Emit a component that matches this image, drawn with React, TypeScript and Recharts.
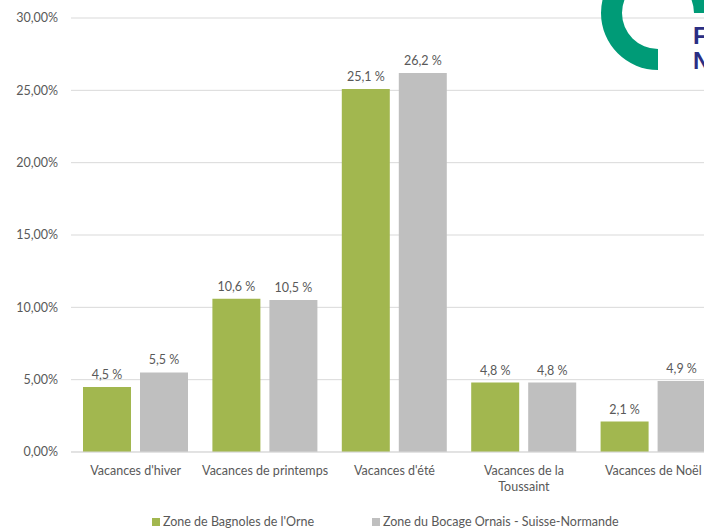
import React from "react";
import { BarChart, Bar, XAxis, YAxis, CartesianGrid, LabelList } from "recharts";

const categories = [
  "Vacances d'hiver",
  "Vacances de printemps",
  "Vacances d'été",
  "Vacances de la\nToussaint",
  "Vacances de Noël",
];
const bagnoles = [4.5, 10.6, 25.1, 4.8, 2.1];
const bocage = [5.5, 10.5, 26.2, 4.8, 4.9];
const yTicks = [0, 5, 10, 15, 20, 25, 30];
const seriesNames = ["Zone de Bagnoles de l'Orne", "Zone du Bocage Ornais - Suisse-Normande"];

const data = categories.map((c, i) => ({ name: c, a: bagnoles[i], b: bocage[i] }));

const FONT = "Lato, 'Open Sans', sans-serif";
const TEXT = "#595959";
const GREEN = "#A2B74F";
const GRAY = "#BFBFBF";

const fmtPct = (v: number) => v.toFixed(2).replace(".", ",") + "%";
const fmtLabel = (v: any) => Number(v).toFixed(1).replace(".", ",") + " %";

const XTick = (props: any) => {
  const { x, y, payload } = props;
  const lines = String(payload.value).split("\n");
  return (
    <text x={x} y={y} textAnchor="middle" fill={TEXT} fontSize={12.5} fontFamily={FONT}>
      {lines.map((l: string, i: number) => (
        <tspan key={i} x={x} dy={i === 0 ? 18 : 16}>
          {l}
        </tspan>
      ))}
    </text>
  );
};

const BarLabel = (props: any) => {
  const { x, y, width, value } = props;
  return (
    <text
      x={x + width / 2}
      y={y - 8}
      textAnchor="middle"
      fill={TEXT}
      fontSize={12.5}
      fontFamily={FONT}
    >
      {fmtLabel(value)}
    </text>
  );
};

export default function App() {
  return (
    <div
      style={{
        position: "absolute",
        left: 0,
        top: 0,
        width: 704,
        height: 528,
        overflow: "hidden",
        background: "#fff",
        fontFamily: FONT,
      }}
    >
      <BarChart
        width={718}
        height={528}
        data={data}
        margin={{ top: 18, right: 0, bottom: 0, left: 0 }}
        barCategoryGap={12}
        barGap={9}
      >
        <CartesianGrid vertical={false} stroke="#D9D9D9" strokeWidth={1} />
        <XAxis
          dataKey="name"
          height={76}
          tick={<XTick />}
          tickLine={false}
          axisLine={{ stroke: "#D9D9D9" }}
          interval={0}
          tickSize={0}
          tickMargin={5}
        />
        <YAxis
          width={71}
          domain={[0, 30]}
          ticks={yTicks}
          tickFormatter={fmtPct}
          axisLine={false}
          tickLine={false}
          tickSize={0}
          tickMargin={13}
          tick={{ fill: TEXT, fontSize: 12.5, fontFamily: FONT }}
        />
        <Bar dataKey="a" fill={GREEN} isAnimationActive={false} barSize={48}>
          <LabelList dataKey="a" content={<BarLabel />} />
        </Bar>
        <Bar dataKey="b" fill={GRAY} isAnimationActive={false} barSize={48}>
          <LabelList dataKey="b" content={<BarLabel />} />
        </Bar>
      </BarChart>
      <div
        style={{
          position: "absolute",
          top: 514,
          left: 152,
          display: "flex",
          alignItems: "center",
          fontSize: 12.5,
          color: TEXT,
          whiteSpace: "nowrap",
        }}
      >
        <span style={{ display: "inline-block", width: 8, height: 8, background: GREEN, marginRight: 3 }} />
        <span style={{ width: 209 }}>{seriesNames[0]}</span>
        <span style={{ display: "inline-block", width: 8, height: 8, background: GRAY, marginRight: 3 }} />
        <span>{seriesNames[1]}</span>
      </div>
      <svg
        width={704}
        height={528}
        style={{ position: "absolute", left: 0, top: 0, pointerEvents: "none" }}
      >
        <path
          d="M 715 13 A 57 57 0 1 0 658 70 L 658 49 A 36 36 0 1 1 694 13 Z"
          fill="#009B77"
        />
        <text x={693} y={44} fontSize={24} fontWeight="bold" fill="#2B2E83" fontFamily="'Liberation Sans', sans-serif">
          F
        </text>
        <text x={693} y={69} fontSize={24} fontWeight="bold" fill="#2B2E83" fontFamily="'Liberation Sans', sans-serif">
          N
        </text>
      </svg>
    </div>
  );
}
